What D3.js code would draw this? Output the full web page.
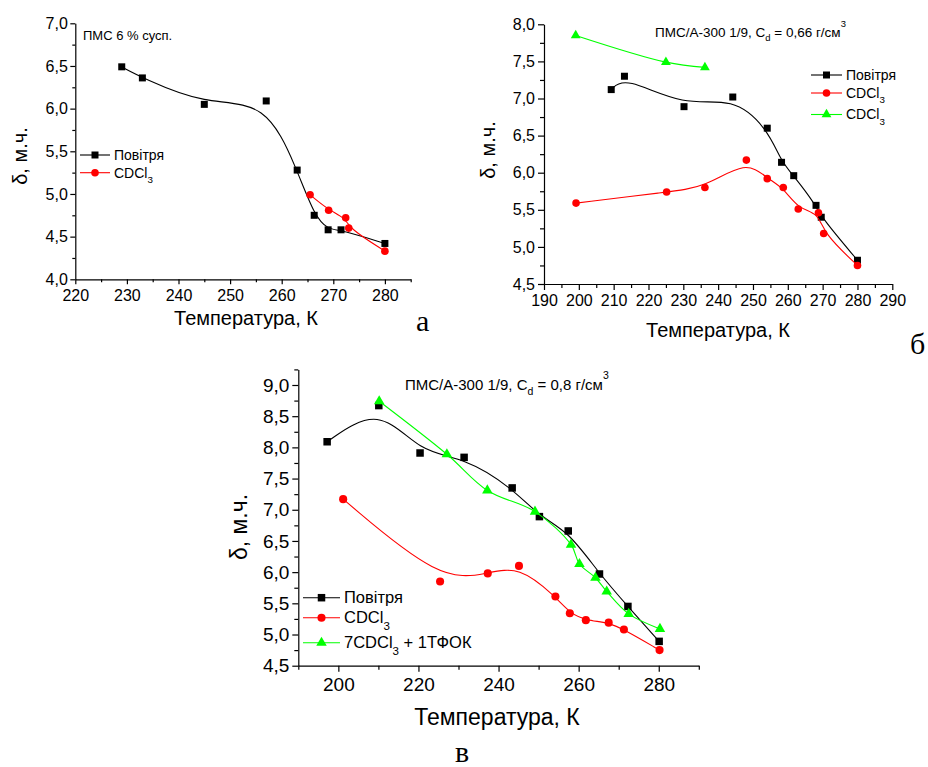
<!DOCTYPE html>
<html><head><meta charset="utf-8">
<script src="https://cdn.jsdelivr.net/npm/d3@7"></script>
<style>body{margin:0;background:#fff}svg{display:block}</style>
</head><body>
<script>
// ---------- DATA ----------
// Panel а
const aAirT = [229, 233, 245, 257, 263, 266.3, 269, 271.5, 280];
const aAirD = [6.49, 6.36, 6.05, 6.09, 5.28, 4.75, 4.58, 4.58, 4.42];
const aCdT = [265.5, 269.1, 272.4, 273, 280];
const aCdD = [4.99, 4.81, 4.72, 4.60, 4.33];
const aXTicks = [220, 230, 240, 250, 260, 270, 280];
const aXMinor = [225, 235, 245, 255, 265, 275, 285];
const aYTicks = [4.0, 4.5, 5.0, 5.5, 6.0, 6.5, 7.0];
const aYMinor = [4.25, 4.75, 5.25, 5.75, 6.25, 6.75];
// Panel б
const bAirT = [209.3, 213.1, 230.2, 244.2, 254.1, 258.2, 261.7, 268.1, 269.6, 280];
const bAirD = [7.12, 7.30, 6.89, 7.02, 6.60, 6.14, 5.96, 5.56, 5.40, 4.82];
const bCdT = [199.2, 225.2, 236.2, 248.1, 254.1, 258.7, 263, 268.8, 270.3, 280];
const bCdD = [5.59, 5.74, 5.80, 6.17, 5.92, 5.80, 5.51, 5.46, 5.18, 4.75];
const bCd2T = [199.1, 225, 236.2];
const bCd2D = [7.85, 7.49, 7.42];
const bXTicks = [190, 200, 210, 220, 230, 240, 250, 260, 270, 280, 290];
const bXMinor = [195, 205, 215, 225, 235, 245, 255, 265, 275, 285];
const bYTicks = [4.5, 5.0, 5.5, 6.0, 6.5, 7.0, 7.5, 8.0];
const bYMinor = [4.75, 5.25, 5.75, 6.25, 6.75, 7.25, 7.75];
// Panel в
const cAirT = [197.2, 210.1, 220.4, 231.4, 243.4, 250.2, 257.4, 265.2, 272.3, 280.1];
const cAirD = [8.09, 8.67, 7.91, 7.84, 7.35, 6.89, 6.66, 5.97, 5.45, 4.89];
const cCdT = [201.2, 225.4, 237.3, 245.1, 254.2, 257.8, 261.8, 267.5, 271.3, 280.2];
const cCdD = [7.17, 5.85, 5.98, 6.10, 5.61, 5.34, 5.23, 5.19, 5.08, 4.75];
const cMixT = [210.2, 227.1, 237.2, 249.1, 258.1, 260.2, 264.2, 267, 272.5, 280.3];
const cMixD = [8.74, 7.89, 7.31, 6.97, 6.44, 6.13, 5.91, 5.69, 5.33, 5.09];
const cXTicks = [200, 220, 240, 260, 280];
const cXMinor = [190, 210, 230, 250, 270, 290];
const cYTicks = [4.5, 5.0, 5.5, 6.0, 6.5, 7.0, 7.5, 8.0, 8.5, 9.0];
const cYMinor = [4.75, 5.25, 5.75, 6.25, 6.75, 7.25, 7.75, 8.25, 8.75, 9.25];

const xLabel = "Температура, К";
const yLabel = "δ, м.ч.";
const lgAir = "Повітря";

// ---------- DRAW ----------
const FONT = "Arial, 'Liberation Sans', Helvetica, sans-serif";
const svg = d3.select("body").append("svg").attr("width", 928).attr("height", 767)
  .style("font-family", FONT);
const comma = v => d3.format(".1f")(v).replace(".", ",");
const zip = (a, b) => a.map((v, i) => [v, b[i]]);

function marker(sel, type, color, size) {
  const sym = type === "sq" ? d3.symbolSquare : type === "ci" ? d3.symbolCircle : d3.symbolTriangle;
  const s = type === "sq" ? size * size : type === "ci" ? Math.PI * (size / 2 + 0.3) ** 2 : size * size * 0.85;
  sel.attr("d", d3.symbol().type(sym).size(s)).attr("fill", color).attr("stroke", "none");
}

function panel(o) {
  const x = d3.scaleLinear().domain(o.xDom).range(o.xR);
  const y = d3.scaleLinear().domain(o.yDom).range(o.yR);
  const g = svg.append("g");
  const style = (sel, fs) => {
    sel.attr("font-family", FONT).attr("font-size", fs);
    sel.selectAll("line,path").attr("stroke", "#000").attr("stroke-width", 1.2);
    sel.selectAll("text").attr("fill", "#000");
  };
  const by = o.yR[0];
  const lx = o.xR[0];
  g.append("g").attr("transform", `translate(0,${by})`)
    .call(d3.axisBottom(x).tickValues(o.xTicks).tickSize(o.tMaj).tickSizeOuter(0)
      .tickPadding(o.xPad).tickFormat(d3.format("d")))
    .call(s => style(s, o.tickFs));
  g.append("g").attr("transform", `translate(0,${by})`)
    .call(d3.axisBottom(x).tickValues(o.xMinor).tickSize(o.tMin).tickFormat(""))
    .call(s => { s.select(".domain").remove(); style(s, o.tickFs); });
  g.append("g").attr("transform", `translate(${lx},0)`)
    .call(d3.axisLeft(y).tickValues(o.yTicks).tickSize(o.tMaj).tickSizeOuter(0)
      .tickPadding(o.yPad).tickFormat(comma))
    .call(s => style(s, o.tickFs));
  g.append("g").attr("transform", `translate(${lx},0)`)
    .call(d3.axisLeft(y).tickValues(o.yMinor).tickSize(o.tMin).tickFormat(""))
    .call(s => { s.select(".domain").remove(); style(s, o.tickFs); });

  // axis titles
  g.append("text").attr("x", o.xtX).attr("y", o.xtY).attr("text-anchor", "middle")
    .attr("font-size", o.titleFs).text(xLabel);
  g.append("text").attr("transform", `translate(${o.ytX},${o.ytY}) rotate(-90)`)
    .attr("text-anchor", "middle").attr("font-size", o.titleFs).text(yLabel);

  // series
  o.series.forEach(s => {
    const pts = zip(s.t, s.d);
    g.append("path").datum(pts)
      .attr("d", d3.line().x(d => x(d[0])).y(d => y(d[1])).curve(s.curve))
      .attr("fill", "none").attr("stroke", s.color).attr("stroke-width", 1.1);
    g.selectAll(null).data(pts).enter().append("path")
      .attr("transform", d => `translate(${x(d[0])},${y(d[1])})`)
      .call(sel => marker(sel, s.type, s.color, o.ms));
  });

  // legend
  o.legend.forEach((it, i) => {
    const ly = o.lgYs[i];
    g.append("line").attr("x1", o.lgX).attr("x2", o.lgX + o.lgLen).attr("y1", ly).attr("y2", ly)
      .attr("stroke", it.color).attr("stroke-width", 1.1);
    g.append("path").attr("transform", `translate(${o.lgX + o.lgLen / 2},${ly})`)
      .call(sel => marker(sel, it.type, it.color, o.ms));
    const t = g.append("text").attr("x", o.lgX + o.lgLen + 4).attr("y", ly).attr("dy", "0.35em")
      .attr("font-size", o.lgFs);
    it.parts.forEach(p => {
      const ts = t.append("tspan").text(p.s);
      if (p.sub) ts.attr("font-size", o.lgFs * 0.7).attr("dy", "0.55em");
      if (p.after) ts.attr("dy", -0.55 * o.lgFs * 0.7);
    });
  });

  // annotation
  const a = g.append("text").attr("x", o.annX).attr("y", o.annY).attr("font-size", o.annFs);
  o.ann.forEach(p => {
    const ts = a.append("tspan").text(p.s);
    if (p.sub) ts.attr("font-size", o.annFs * 0.7).attr("dy", o.annFs * 0.3);
    if (p.sup) ts.attr("font-size", o.annFs * 0.7).attr("dy", -o.annFs * 0.75);
    if (p.back) ts.attr("dy", p.back);
  });

  // panel letter
  g.append("text").attr("x", o.letX).attr("y", o.letY).attr("font-family", "'Liberation Serif', 'Times New Roman', serif")
    .attr("font-size", 30).text(o.letter);
}

const cdcl = [{ s: "CDCl" }, { s: "3", sub: true }];

panel({
  xDom: [220, 285], xR: [75.3, 410.7], yDom: [4.0, 7.0], yR: [279.3, 23.3],
  xTicks: aXTicks, xMinor: aXMinor, yTicks: aYTicks, yMinor: aYMinor,
  tMaj: 5, tMin: 3, xPad: 5, yPad: 2.5, tickFs: 16,
  titleFs: 20, xtX: 246, xtY: 325, ytX: 27, ytY: 156,
  ms: 7,
  series: [
    { t: aAirT, d: aAirD, color: "#000", type: "sq", curve: d3.curveBasis },
    { t: aCdT, d: aCdD, color: "#ff0000", type: "ci", curve: d3.curveBasis }
  ],
  legend: [
    { color: "#000", type: "sq", parts: [{ s: lgAir }] },
    { color: "#ff0000", type: "ci", parts: cdcl }
  ],
  lgX: 80, lgLen: 30, lgYs: [155, 172.7], lgFs: 14,
  ann: [{ s: "ПМС 6 % сусп." }], annX: 83, annY: 40, annFs: 13,
  letter: "а", letX: 416, letY: 331
});

panel({
  xDom: [190, 290], xR: [544, 892.3], yDom: [4.5, 8.0], yR: [284, 24.3],
  xTicks: bXTicks, xMinor: bXMinor, yTicks: bYTicks, yMinor: bYMinor,
  tMaj: 6, tMin: 4, xPad: 5, yPad: 3, tickFs: 16,
  titleFs: 20, xtX: 718, xtY: 337, ytX: 495, ytY: 150,
  ms: 7,
  series: [
    { t: bAirT, d: bAirD, color: "#000", type: "sq", curve: d3.curveBasis },
    { t: bCdT, d: bCdD, color: "#ff0000", type: "ci", curve: d3.curveBasis },
    { t: bCd2T, d: bCd2D, color: "#00ff00", type: "tri", curve: d3.curveCatmullRom }
  ],
  legend: [
    { color: "#000", type: "sq", parts: [{ s: lgAir }] },
    { color: "#ff0000", type: "ci", parts: cdcl },
    { color: "#00ff00", type: "tri", parts: cdcl }
  ],
  lgX: 811, lgLen: 31, lgYs: [75, 93, 114.5], lgFs: 14,
  ann: [{ s: "ПМС/А-300 1/9, C" }, { s: "d", sub: true }, { s: " = 0,66 г/см", back: -13.5 * 0.3 },
        { s: "3", sup: true }],
  annX: 655, annY: 37, annFs: 13.5,
  letter: "б", letX: 910, letY: 354
});

panel({
  xDom: [190, 290], xR: [298.3, 698.8], yDom: [4.5, 9.25], yR: [665.7, 369.4],
  xTicks: cXTicks, xMinor: cXMinor, yTicks: cYTicks, yMinor: cYMinor,
  tMaj: 6, tMin: 4, xPad: 6, yPad: 3, tickFs: 19,
  titleFs: 23, xtX: 497, xtY: 725, ytX: 247, ytY: 527,
  ms: 7.5,
  series: [
    { t: cAirT, d: cAirD, color: "#000", type: "sq", curve: d3.curveBasis },
    { t: cCdT, d: cCdD, color: "#ff0000", type: "ci", curve: d3.curveBasis },
    { t: cMixT, d: cMixD, color: "#00ff00", type: "tri", curve: d3.curveCatmullRom }
  ],
  legend: [
    { color: "#000", type: "sq", parts: [{ s: lgAir }] },
    { color: "#ff0000", type: "ci", parts: cdcl },
    { color: "#00ff00", type: "tri", parts: [{ s: "7CDCl" }, { s: "3", sub: true }, { s: " + 1ТФОК", after: true }] }
  ],
  lgX: 303, lgLen: 37, lgYs: [597.7, 617.7, 642.7], lgFs: 16.5,
  ann: [{ s: "ПМС/А-300 1/9, C" }, { s: "d", sub: true }, { s: " = 0,8 г/см", back: -15 * 0.3 },
        { s: "3", sup: true }],
  annX: 405, annY: 390, annFs: 15,
  letter: "в", letX: 455, letY: 762
});
</script>
</body></html>
